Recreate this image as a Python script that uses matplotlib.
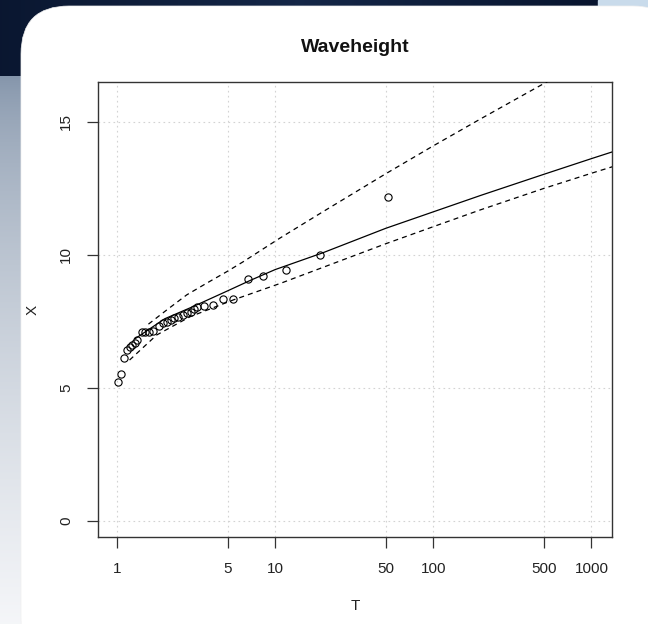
import numpy as np
import matplotlib
matplotlib.use('Agg')
import matplotlib.pyplot as plt
from matplotlib.patches import Rectangle, FancyBboxPatch

plt.rcParams['font.family'] = ['Liberation Sans', 'DejaVu Sans']

T_obs = [1.01, 1.06, 1.10, 1.15, 1.20, 1.24, 1.29, 1.34, 1.43, 1.50, 1.60,
         1.70, 1.83, 1.94, 2.06, 2.18, 2.29, 2.44, 2.60, 2.76, 2.92, 3.07,
         3.22, 3.54, 4.03, 4.66, 5.44, 6.72, 8.4, 11.7, 19.2, 51.4]
X_obs = [5.21, 5.51, 6.12, 6.43, 6.53, 6.62, 6.70, 6.80, 7.12, 7.12, 7.12,
         7.15, 7.33, 7.43, 7.49, 7.56, 7.62, 7.68, 7.74, 7.81, 7.87, 7.96,
         8.06, 8.08, 8.12, 8.33, 8.33, 9.09, 9.22, 9.44, 10.0, 12.19]

# fitted return level curve
T_fit = [1.3, 2, 3, 5, 7, 10, 20, 50, 100, 200, 500, 1000, 1400]
X_fit = [6.85, 7.6, 8.05, 8.65, 9.05, 9.45, 10.08, 11.0, 11.62, 12.24, 13.03,
         13.62, 13.9]

# confidence bounds
T_up = [1.58, 2.06, 2.76, 3.69, 4.94, 6.3, 10.7, 20, 50, 100, 200, 400, 600]
X_up = [7.4, 7.93, 8.5, 8.94, 9.37, 9.75, 10.63, 11.62, 13.05, 14.1, 15.12,
        16.12, 16.7]
T_lo = [1.2, 1.78, 2.9, 5.44, 11, 50, 103, 200, 500, 1000, 1400]
X_lo = [6.05, 6.99, 7.68, 8.31, 8.95, 10.42, 11.09, 11.7, 12.5, 13.07, 13.34]

x_ticks = [1, 5, 10, 50, 100, 500, 1000]
y_ticks = [0, 5, 10, 15]

W, H = 648, 624
fig = plt.figure(figsize=(W / 100, H / 100), dpi=100)

# slide background
bg = fig.add_axes([0, 0, 1, 1])
bg.set_xlim(0, W)
bg.set_ylim(H, 0)
bg.axis('off')
grad = np.linspace(0, 1, 256).reshape(-1, 1) ** 0.6
cols = np.array([[0.49, 0.56, 0.65], [0.96, 0.965, 0.975]])
img = cols[0] + (cols[1] - cols[0]) * grad[..., None]
bg.imshow(img.reshape(256, 1, 3), extent=(0, W, H, 70), aspect='auto',
          zorder=0)
navy = np.array([[0.04, 0.09, 0.19], [0.08, 0.15, 0.28], [0.03, 0.08, 0.18]])
xs = np.linspace(0, 1, 256)
band_img = np.stack([np.interp(xs, [0, 0.5, 1], navy[:, c]) for c in range(3)],
                    axis=-1)
bg.imshow(band_img.reshape(1, 256, 3), extent=(0, 600, 76, 0),
          aspect='auto', zorder=1)
bg.add_patch(Rectangle((598, 0), 50, 200, color='#c9dbeb', zorder=1))
bg.add_patch(FancyBboxPatch((21, 6), 660, 660,
                            boxstyle='round,pad=0,rounding_size=48',
                            facecolor='white', edgecolor='#f0f0f0',
                            lw=0.5, zorder=2))
bg.set_xlim(0, W)
bg.set_ylim(H, 0)

# plot area
left, right, top, bottom = 98, 612, 82, 537
ax = fig.add_axes([left / W, 1 - bottom / H, (right - left) / W,
                   (bottom - top) / H])
ax.set_facecolor('none')
ax.set_xscale('log')
ax.set_xlim(0.758, 1350)
ax.set_ylim(-0.6, 16.5)

for t in x_ticks:
    ax.axvline(t, color='#d3d3d3', lw=0.8, dashes=(1.5, 3), zorder=1)
for v in y_ticks:
    ax.axhline(v, color='#d3d3d3', lw=0.8, dashes=(1.5, 3), zorder=1)

ax.plot(T_fit, X_fit, color='black', lw=0.9, zorder=3)
ax.plot(T_up, X_up, color='black', lw=0.9, dashes=(4, 3.3), zorder=3)
ax.plot(T_lo, X_lo, color='black', lw=0.9, dashes=(4, 3.3), zorder=3)
ax.plot(T_obs, X_obs, 'o', mfc='none', mec='black', ms=5.2, mew=0.8,
        zorder=4)

ax.set_xticks(x_ticks)
ax.set_xticklabels([str(t) for t in x_ticks])
ax.xaxis.set_minor_locator(matplotlib.ticker.NullLocator())
ax.set_yticks(y_ticks)
ax.set_yticklabels([str(v) for v in y_ticks], rotation=90, va='center')
ax.tick_params(length=8, width=0.9, pad=10, labelsize=11, color='#333333',
               labelcolor='#222222')
for sp in ax.spines.values():
    sp.set_linewidth(1.0)
    sp.set_color('#333333')

fig.text(355 / W, 1 - 47 / H, 'Waveheight', ha='center', va='center',
         fontsize=14, fontweight='bold', color='#111111')
fig.text(355 / W, 1 - 606 / H, 'T', ha='center', va='center', fontsize=11,
         color='#222222')
fig.text(33 / W, 1 - 310 / H, 'X', ha='center', va='center', fontsize=11,
         rotation=90, color='#222222')

fig.savefig('out.png', dpi=100)
